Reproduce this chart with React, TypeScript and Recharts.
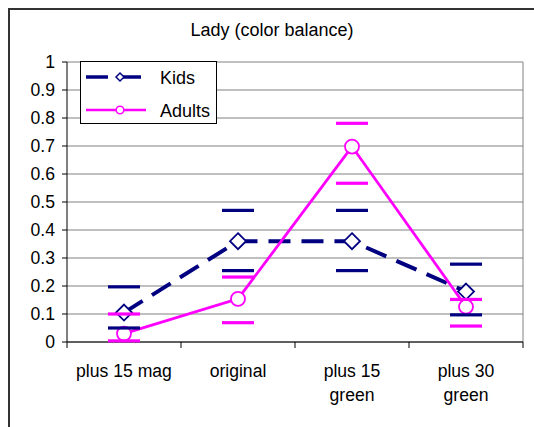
import React from "react";
import { LineChart, Line, XAxis, YAxis, CartesianGrid } from "recharts";

const CATEGORIES = ["plus 15 mag", "original", "plus 15 green", "plus 30 green"];
const CATEGORY_LINES = [["plus 15 mag"], ["original"], ["plus 15", "green"], ["plus 30", "green"]];

const KIDS = [0.105, 0.36, 0.36, 0.18];
const KIDS_HIGH = [0.197, 0.47, 0.47, 0.278];
const KIDS_LOW = [0.05, 0.255, 0.255, 0.097];

const ADULTS = [0.03, 0.154, 0.698, 0.126];
const ADULTS_HIGH = [0.1, 0.232, 0.781, 0.152];
const ADULTS_LOW = [0.004, 0.069, 0.567, 0.057];

const Y_TICKS = [0, 0.1, 0.2, 0.3, 0.4, 0.5, 0.6, 0.7, 0.8, 0.9, 1];

const NAVY = "#000080";
const MAGENTA = "#FF00FF";
const FONT = "'Liberation Sans', Arial, sans-serif";

const W = 534;
const H = 427;
const MARGIN = { top: 62, right: 11, left: 8, bottom: 25 };
const Y_AXIS_W = 59;
const HALF_BAND = (W - MARGIN.left - MARGIN.right - Y_AXIS_W) / CATEGORIES.length / 2;

const data = CATEGORIES.map((name, i) => ({
  name,
  kids: KIDS[i],
  kidsHigh: KIDS_HIGH[i],
  kidsLow: KIDS_LOW[i],
  adults: ADULTS[i],
  adultsHigh: ADULTS_HIGH[i],
  adultsLow: ADULTS_LOW[i],
}));

function CategoryTick(props: any) {
  const { x, y, payload } = props;
  const idx = CATEGORIES.indexOf(payload.value);
  const lines = CATEGORY_LINES[idx] || [payload.value];
  return (
    <g>
      <line x1={x - HALF_BAND} x2={x - HALF_BAND} y1={y} y2={y + 6} stroke="#000" />
      {idx === CATEGORIES.length - 1 && (
        <line x1={x + HALF_BAND} x2={x + HALF_BAND} y1={y} y2={y + 6} stroke="#000" />
      )}
      <text x={x} y={y} textAnchor="middle" fontSize={17.6} fontFamily={FONT} fill="#000">
        {lines.map((l, i) => (
          <tspan key={i} x={x} dy={i === 0 ? 35 : 24}>
            {l}
          </tspan>
        ))}
      </text>
    </g>
  );
}

const renderDiamond = (p: any) => {
  if (p.cx == null || p.cy == null) return <g key={p.index} />;
  const s = 8;
  return (
    <path
      key={p.index}
      d={`M${p.cx},${p.cy - s} L${p.cx + s},${p.cy} L${p.cx},${p.cy + s} L${p.cx - s},${p.cy} Z`}
      fill="#fff"
      stroke={NAVY}
      strokeWidth={1.8}
    />
  );
};

const renderCircle = (p: any) => {
  if (p.cx == null || p.cy == null) return <g key={p.index} />;
  return <circle key={p.index} cx={p.cx} cy={p.cy} r={7} fill="#fff" stroke={MAGENTA} strokeWidth={1.8} />;
};

const makeCap = (color: string) => (p: any) => {
  if (p.cx == null || p.cy == null) return <g key={p.index} />;
  return (
    <line key={p.index} x1={p.cx - 16} x2={p.cx + 16} y1={p.cy} y2={p.cy} stroke={color} strokeWidth={3.2} />
  );
};

// right edge of the plot area, used for the grey frame line
const frameRight = (args: any) => {
  const o = args && args.offset;
  return o && typeof o.left === "number" ? [o.left + o.width] : [];
};

function LegendBox() {
  return (
    <div
      style={{
        position: "absolute",
        left: 80,
        top: 61,
        width: 137,
        height: 63,
        boxSizing: "border-box",
        border: "1px solid #000",
        background: "#fff",
      }}
    >
      <svg width={135} height={61} style={{ display: "block" }}>
        <line x1={5} x2={64} y1={15} y2={15} stroke={NAVY} strokeWidth={3.5} strokeDasharray="22 11" />
        <path d="M39,11 L43,15 L39,19 L35,15 Z" fill="#fff" stroke={NAVY} strokeWidth={1.5} />
        <text x={79} y={21.5} fontSize={18} fontFamily={FONT} fill="#000">
          Kids
        </text>
        <line x1={5} x2={65} y1={48} y2={48} stroke={MAGENTA} strokeWidth={2.5} />
        <circle cx={39} cy={48} r={3.8} fill="#fff" stroke={MAGENTA} strokeWidth={1.5} />
        <text x={79} y={54.5} fontSize={18} fontFamily={FONT} fill="#000">
          Adults
        </text>
      </svg>
    </div>
  );
}

export default function App() {
  return (
    <div
      style={{
        position: "absolute",
        left: 0,
        top: 0,
        width: W,
        height: H,
        overflow: "hidden",
        background: "#fff",
        fontFamily: FONT,
      }}
    >
      <div
        style={{
          position: "absolute",
          left: 8,
          top: 8,
          width: W,
          height: H,
          borderLeft: "2px solid #333",
          borderTop: "2px solid #333",
        }}
      />
      <div
        style={{
          position: "absolute",
          left: 0,
          top: 20,
          width: 544,
          textAlign: "center",
          fontSize: 18,
          lineHeight: "20px",
          color: "#000",
        }}
      >
        Lady (color balance)
      </div>
      <div style={{ position: "absolute", left: 0, top: 0 }}>
        <LineChart width={W} height={H} data={data} margin={MARGIN}>
          <CartesianGrid stroke="#808080" verticalCoordinatesGenerator={frameRight} />
          <XAxis
            dataKey="name"
            scale="band"
            height={60}
            tick={<CategoryTick />}
            tickLine={false}
            tickSize={0}
            tickMargin={0}
            interval={0}
            axisLine={{ stroke: "#000" }}
          />
          <YAxis
            width={Y_AXIS_W}
            domain={[0, 1]}
            ticks={Y_TICKS}
            tickFormatter={(v) => String(v)}
            tick={{ fontSize: 17.6, fill: "#000", fontFamily: FONT }}
            tickSize={5}
            tickMargin={7}
            axisLine={{ stroke: "#000" }}
            tickLine={{ stroke: "#000" }}
          />
          <YAxis
            yAxisId="frame"
            orientation="right"
            width={0}
            domain={[0, 1]}
            tick={false}
            tickLine={false}
            axisLine={{ stroke: "#808080", strokeWidth: 2 }}
          />
          <Line
            dataKey="kids"
            stroke={NAVY}
            strokeWidth={4}
            strokeDasharray="22 11"
            dot={renderDiamond}
            activeDot={false}
            isAnimationActive={false}
          />
          <Line
            dataKey="adults"
            stroke={MAGENTA}
            strokeWidth={2.8}
            dot={renderCircle}
            activeDot={false}
            isAnimationActive={false}
          />
          <Line dataKey="kidsHigh" stroke="none" dot={makeCap(NAVY)} activeDot={false} isAnimationActive={false} />
          <Line dataKey="kidsLow" stroke="none" dot={makeCap(NAVY)} activeDot={false} isAnimationActive={false} />
          <Line dataKey="adultsHigh" stroke="none" dot={makeCap(MAGENTA)} activeDot={false} isAnimationActive={false} />
          <Line dataKey="adultsLow" stroke="none" dot={makeCap(MAGENTA)} activeDot={false} isAnimationActive={false} />
        </LineChart>
      </div>
      <LegendBox />
    </div>
  );
}
